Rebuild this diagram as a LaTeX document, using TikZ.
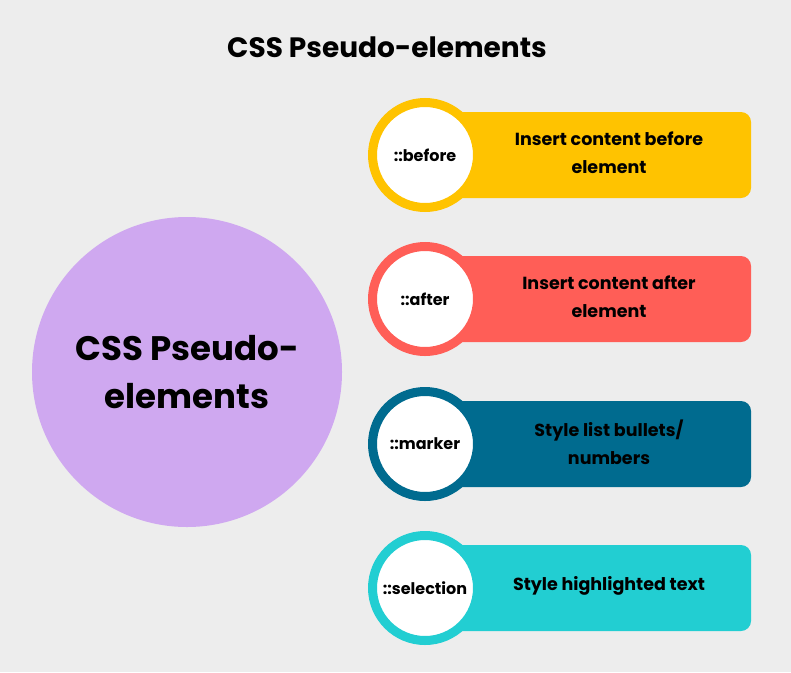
\documentclass[tikz,border=0pt]{standalone}
\usepackage{fontspec}
\setmainfont{Poppins}
\definecolor{bg}{HTML}{EDEDED}
\definecolor{lav}{HTML}{CFA8F0}
\definecolor{cyel}{HTML}{FFC300}
\definecolor{cred}{HTML}{FF5E57}
\definecolor{cblu}{HTML}{006B8F}
\definecolor{ccya}{HTML}{22CED2}
\begin{document}
\begin{tikzpicture}[x=1pt,y=-1pt,
  bar/.style={rounded corners=10pt, minimum width=320pt, minimum height=86pt, inner sep=0pt},
  ring/.style={circle, draw=#1, line width=9pt, fill=white, minimum size=105pt, inner sep=0pt, font=\bfseries\fontsize{16}{18}\selectfont},
  btxt/.style={align=center, font=\bfseries\fontsize{17.5}{28}\selectfont}]
\fill[bg] (0,0) rectangle (791,672);
\useasboundingbox (0,0) rectangle (791,672);
\node[font=\bfseries\fontsize{28}{32}\selectfont] (title) at (387,47) {CSS Pseudo-elements};
\node[circle, fill=lav, minimum size=310pt, inner sep=0pt, align=center, font=\bfseries\fontsize{34}{48}\selectfont] (main) at (187,372) {CSS Pseudo-\\elements};
\foreach \n/\y/\c/\lab/\txt in {a/155/cyel/::before/{Insert content before\\element}, b/299/cred/::after/{Insert content after\\element}, c/444/cblu/::marker/{Style list bullets/\\numbers}, d/588/ccya/::selection/{Style highlighted text}}{
  \node[bar, fill=\c] (bar\n) at (591,\y) {};
  \node[btxt] (t\n) at (609,\y-2) {\txt};
  \node[ring=\c] (r\n) at (425,\y) {\lab};
}
\end{tikzpicture}
\end{document}
